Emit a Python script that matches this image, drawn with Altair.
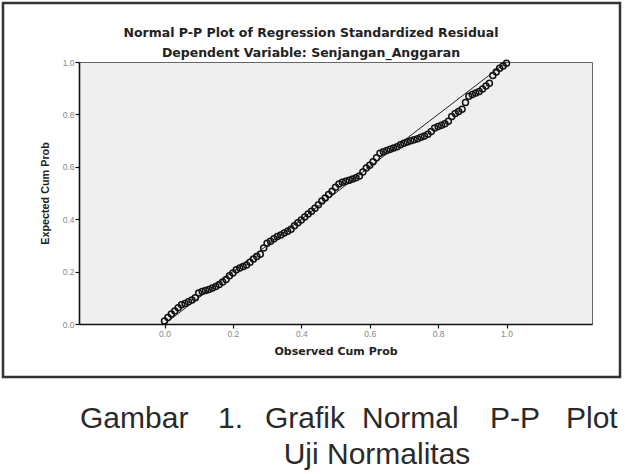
import altair as alt
import pandas as pd

# Observed cumulative probability (x) and expected cumulative probability (y)
observed = [0.00, 0.01, 0.02, 0.03, 0.04, 0.05, 0.06, 0.07, 0.08, 0.09,
            0.10, 0.11, 0.12, 0.13, 0.14, 0.15, 0.16, 0.17, 0.18, 0.19,
            0.20, 0.21, 0.22, 0.23, 0.24, 0.25, 0.26, 0.27, 0.28, 0.29,
            0.30, 0.31, 0.32, 0.33, 0.34, 0.35, 0.36, 0.37, 0.38, 0.39,
            0.40, 0.41, 0.42, 0.43, 0.44, 0.45, 0.46, 0.47, 0.48, 0.49,
            0.50, 0.51, 0.52, 0.53, 0.54, 0.55, 0.56, 0.57, 0.58, 0.59,
            0.60, 0.61, 0.62, 0.63, 0.64, 0.65, 0.66, 0.67, 0.68, 0.69,
            0.70, 0.71, 0.72, 0.73, 0.74, 0.75, 0.76, 0.77, 0.78, 0.79,
            0.80, 0.81, 0.82, 0.83, 0.84, 0.85, 0.86, 0.87, 0.88, 0.89,
            0.90, 0.91, 0.92, 0.93, 0.94, 0.95, 0.96, 0.97, 0.98, 0.99, 1.00]
expected = [0.011, 0.025, 0.038, 0.050, 0.062, 0.073, 0.078, 0.085, 0.092, 0.100,
            0.118, 0.124, 0.128, 0.132, 0.137, 0.143, 0.151, 0.160, 0.170, 0.184,
            0.195, 0.207, 0.214, 0.219, 0.225, 0.236, 0.248, 0.258, 0.266, 0.290,
            0.308, 0.316, 0.325, 0.334, 0.340, 0.347, 0.354, 0.362, 0.375, 0.386,
            0.397, 0.408, 0.420, 0.430, 0.442, 0.455, 0.469, 0.481, 0.494, 0.507,
            0.522, 0.534, 0.541, 0.545, 0.549, 0.553, 0.558, 0.565, 0.580, 0.595,
            0.606, 0.619, 0.635, 0.652, 0.657, 0.662, 0.667, 0.672, 0.677, 0.684,
            0.690, 0.695, 0.699, 0.703, 0.707, 0.713, 0.718, 0.724, 0.735, 0.748,
            0.754, 0.759, 0.764, 0.774, 0.792, 0.803, 0.811, 0.820, 0.845, 0.869,
            0.876, 0.882, 0.887, 0.897, 0.908, 0.919, 0.948, 0.962, 0.976, 0.985, 0.995]

ref_x = [0.0, 1.0]
ref_y = [0.0, 1.0]
tick_values = [0.0, 0.2, 0.4, 0.6, 0.8, 1.0]

title_lines = ["Normal P-P Plot of Regression Standardized Residual",
               "Dependent Variable: Senjangan_Anggaran"]
caption_words = ["Gambar", "1.", "Grafik", "Normal", "P-P", "Plot"]
caption_line2 = "Uji Normalitas"

W, H = 513, 262
PL, PT = 79, 62

pts = pd.DataFrame({"obs": observed, "exp": expected})
ref = pd.DataFrame({"x": ref_x, "y": ref_y})

xscale = alt.Scale(domain=[-0.25, 1.25], nice=False, zero=False)
yscale = alt.Scale(domain=[0, 1], nice=False)

xaxis = alt.Axis(values=tick_values, format=".1f", title="Observed Cum Prob",
                 titleFont="DejaVu Sans", titleFontSize=11, titleFontWeight="bold",
                 titleColor="#222", titleBaseline="middle", titleY=27,
                 labelFont="Liberation Sans", labelFontSize=8.5, labelColor="#888",
                 labelPadding=1, tickSize=4, tickColor="#111", tickWidth=1.2,
                 domainColor="#111", domainWidth=1.6, grid=False)
yaxis = alt.Axis(values=tick_values, format=".1f", title="Expected Cum Prob",
                 titleFont="Liberation Sans", titleFontSize=10.8, titleFontWeight="bold",
                 titleColor="#222", titleBaseline="middle", titleX=-34, titleAngle=270,
                 labelFont="Liberation Sans", labelFontSize=8.5, labelColor="#888",
                 labelPadding=1, tickSize=4, tickColor="#111", tickWidth=1.2,
                 domainColor="#111", domainWidth=1.6, grid=False)

refline = alt.Chart(ref).mark_line(color="#222", strokeWidth=1).encode(
    x=alt.X("x:Q", scale=xscale, axis=xaxis),
    y=alt.Y("y:Q", scale=yscale, axis=yaxis),
)

points = alt.Chart(pts).mark_point(shape="circle", filled=False, color="#111",
                                   size=36, strokeWidth=1.5, opacity=1).encode(
    x=alt.X("obs:Q", scale=xscale),
    y=alt.Y("exp:Q", scale=yscale),
)

layers = [refline, points]

# outer frame
frame = alt.Chart(pd.DataFrame({"a": [0]})).mark_rect(
    fill=None, stroke="#333", strokeWidth=2.5).encode(
    x=alt.value(3 - PL), x2=alt.value(620 - PL),
    y=alt.value(3 - PT), y2=alt.value(377 - PT))
layers.append(frame)

# chart titles
for i, line in enumerate(title_lines):
    layers.append(
        alt.Chart(pd.DataFrame({"t": [line]})).mark_text(
            font="DejaVu Sans", fontSize=12.5, fontWeight="bold", color="#222",
            align="center", baseline="middle").encode(
            x=alt.value(311 - PL), y=alt.value([33, 53][i] - PT), text="t:N"))

# caption (justified first line)
word_x = [80, 218, 265, 362, 490, 566]
for w, xp in zip(caption_words, word_x):
    layers.append(
        alt.Chart(pd.DataFrame({"t": [w]})).mark_text(
            font="Liberation Sans", fontSize=30, color="#2a2a2a",
            align="left", baseline="alphabetic").encode(
            x=alt.value(xp - PL), y=alt.value(428 - PT), text="t:N"))
layers.append(
    alt.Chart(pd.DataFrame({"t": [caption_line2]})).mark_text(
        font="Liberation Sans", fontSize=30, color="#2a2a2a",
        align="center", baseline="alphabetic").encode(
        x=alt.value(377 - PL), y=alt.value(464 - PT), text="t:N"))

chart = alt.layer(*layers).properties(
    width=W, height=H,
    autosize=alt.AutoSizeParams(type="none"),
    padding={"left": PL, "top": PT, "right": 625 - PL - W, "bottom": 474 - PT - H},
    background="white",
).configure_view(fill="#efefef", stroke="#666", strokeWidth=1)

chart.save("out.html", embed_options={"renderer": "svg", "actions": False})
